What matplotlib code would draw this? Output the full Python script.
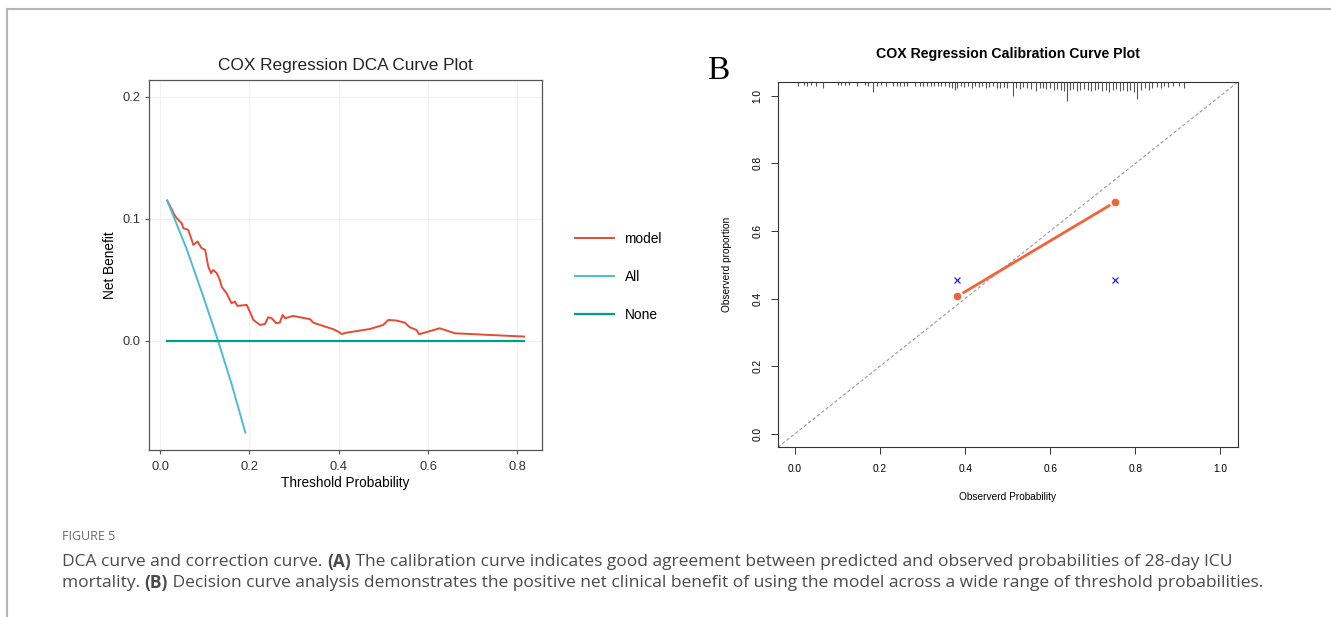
import numpy as np
import matplotlib
matplotlib.use('Agg')
import matplotlib.pyplot as plt
from matplotlib.lines import Line2D

# ------------------------------------------------------------------ data --- #

# panel A: decision curve
model_thr = [0.016, 0.026, 0.031, 0.037, 0.0485, 0.052, 0.063, 0.071, 0.0745, 0.084,
             0.093, 0.101, 0.108, 0.114, 0.119, 0.127, 0.134, 0.138, 0.149, 0.160,
             0.168, 0.173, 0.194, 0.201, 0.209, 0.224, 0.235, 0.242, 0.250, 0.260,
             0.268, 0.2745, 0.280, 0.298, 0.336, 0.343, 0.365, 0.388, 0.399, 0.4065,
             0.418, 0.470, 0.4996, 0.511, 0.529, 0.548, 0.559, 0.574, 0.580, 0.626,
             0.660, 0.738, 0.815]
model_nb = [0.115, 0.108, 0.104, 0.1006, 0.0965, 0.0924, 0.091, 0.0828, 0.0787, 0.0814,
            0.076, 0.0746, 0.0609, 0.0555, 0.0582, 0.0555, 0.050, 0.0445, 0.039, 0.0309,
            0.0322, 0.0287, 0.0295, 0.024, 0.0172, 0.0131, 0.0139, 0.0194, 0.0186, 0.0145,
            0.015, 0.0213, 0.0186, 0.0205, 0.0178, 0.015, 0.0123, 0.0096, 0.0076, 0.0057,
            0.0068, 0.0098, 0.0131, 0.0172, 0.0167, 0.015, 0.0112, 0.009, 0.0055, 0.0104,
            0.0063, 0.0049, 0.0036]
all_thr = [0.016, 0.060, 0.100, 0.130, 0.160, 0.191]
all_nb = [0.115, 0.075, 0.033, 0.0, -0.035, -0.075]
none_thr = [0.016, 0.815]
none_nb = [0.0, 0.0]

# panel B: calibration
cal_pred = [0.382, 0.753]
cal_obs = [0.407, 0.686]
cal_ideal = [0.454, 0.455]

# rug of predicted values along the top and spike length
rug_x = [0.008, 0.021, 0.029, 0.038, 0.050, 0.067, 0.101, 0.109, 0.118, 0.126,
         0.147, 0.164, 0.172, 0.183, 0.193, 0.202, 0.214, 0.231, 0.239, 0.247,
         0.256, 0.264, 0.281, 0.294, 0.302, 0.310, 0.319, 0.327, 0.336, 0.344,
         0.352, 0.361, 0.369, 0.375, 0.382, 0.390, 0.398, 0.407, 0.415, 0.424,
         0.432, 0.440, 0.449, 0.457, 0.466, 0.474, 0.482, 0.491, 0.499, 0.512,
         0.520, 0.528, 0.537, 0.545, 0.554, 0.566, 0.575, 0.583, 0.591, 0.600,
         0.608, 0.617, 0.625, 0.633, 0.639, 0.646, 0.654, 0.663, 0.671, 0.679,
         0.688, 0.696, 0.705, 0.713, 0.721, 0.730, 0.738, 0.747, 0.755, 0.763,
         0.772, 0.780, 0.788, 0.797, 0.803, 0.814, 0.822, 0.831, 0.839, 0.852,
         0.860, 0.868, 0.877, 0.889, 0.902, 0.914]
rug_h = [0.010, 0.008, 0.010, 0.008, 0.010, 0.016, 0.008, 0.008, 0.008, 0.008,
         0.010, 0.008, 0.010, 0.030, 0.010, 0.008, 0.010, 0.010, 0.012, 0.010,
         0.012, 0.010, 0.010, 0.012, 0.010, 0.012, 0.010, 0.010, 0.012, 0.010,
         0.012, 0.014, 0.016, 0.022, 0.016, 0.012, 0.014, 0.012, 0.016, 0.012,
         0.014, 0.012, 0.016, 0.014, 0.012, 0.016, 0.018, 0.014, 0.016, 0.040,
         0.016, 0.020, 0.014, 0.018, 0.020, 0.026, 0.018, 0.016, 0.020, 0.018,
         0.022, 0.020, 0.024, 0.026, 0.056, 0.024, 0.020, 0.026, 0.022, 0.020,
         0.024, 0.026, 0.022, 0.020, 0.026, 0.022, 0.028, 0.024, 0.020, 0.026,
         0.022, 0.026, 0.024, 0.028, 0.050, 0.022, 0.018, 0.024, 0.016, 0.014,
         0.018, 0.012, 0.014, 0.010, 0.012, 0.016]

caption_title = 'FIGURE 5'
caption_lines = [
    [('DCA curve and correction curve. ', 'normal'), ('(A)', 'bold'),
     (' The calibration curve indicates good agreement between predicted and observed probabilities of 28-day ICU', 'normal')],
    [('mortality. ', 'normal'), ('(B)', 'bold'),
     (' Decision curve analysis demonstrates the positive net clinical benefit of using the model across a wide range of threshold probabilities.', 'normal')],
]

W, H = 1331, 617
plt.rcParams['font.family'] = ['Liberation Sans', 'DejaVu Sans']

fig = plt.figure(figsize=(W / 100, H / 100), dpi=100)


def px_box(left, top, right, bottom):
    return [left / W, 1 - bottom / H, (right - left) / W, (bottom - top) / H]


# ----------------------------------------------------------- panel A --- #
ax1 = fig.add_axes(px_box(149.3, 80, 542, 450))
ax1.plot(model_thr, model_nb, color='#E64B35', lw=1.4, label='model')
ax1.plot(all_thr, all_nb, color='#4DBBD5', lw=1.4, label='All')
ax1.plot(none_thr, none_nb, color='#00A087', lw=1.6, label='None')
ax1.set_xlim(-0.024, 0.855)
ax1.set_ylim(-0.0893, 0.2137)
ax1.set_xticks([0.0, 0.2, 0.4, 0.6, 0.8])
ax1.set_yticks([0.0, 0.1, 0.2])
ax1.grid(True, color='#f1f1f1', lw=0.9)
ax1.set_axisbelow(True)
for s in ax1.spines.values():
    s.set_color('#555555')
    s.set_linewidth(0.9)
ax1.tick_params(length=3, width=0.8, color='#555555', labelsize=9.3,
                labelcolor='#333333', pad=3)
ax1.tick_params(axis='x', pad=5)
ax1.set_xlabel('Threshold Probability', fontsize=9.8, va='center')
ax1.set_ylabel('Net Benefit', fontsize=9.8, va='center')
ax1.xaxis.set_label_coords(0.5, -0.089)
ax1.yaxis.set_label_coords(-0.100, 0.5)
ax1.set_title('COX Regression DCA Curve Plot', fontsize=12.4, y=1.04, pad=0,
              va='center', color='#222222')
fig.legend(*ax1.get_legend_handles_labels(), loc='center left',
           bbox_to_anchor=(575 / W, 1 - 277 / H), frameon=False,
           fontsize=9.9, handlelength=2.8, handletextpad=0.8,
           labelspacing=1.75, borderpad=0, borderaxespad=0)

# ----------------------------------------------------------- panel B --- #
ax2 = fig.add_axes(px_box(777.9, 82.3, 1237.5, 447.3))
ax2.set_xlim(-0.04, 1.04)
ax2.set_ylim(-0.04, 1.04)
ax2.axline((0, 0), (1, 1), color='#9a9a9a', lw=0.8, dashes=(3, 2))
ax2.vlines(rug_x, 1.04 - np.array(rug_h), 1.04, color='#555555', lw=0.8)
ax2.annotate('', xy=(cal_pred[1], cal_obs[1]), xytext=(cal_pred[0], cal_obs[0]),
             arrowprops=dict(arrowstyle='-', color='#F4623A', lw=2.0,
                             shrinkA=5, shrinkB=5))
ax2.plot(cal_pred, cal_obs, 'o', color='#F4623A', ms=4.5)
ax2.plot(cal_pred, cal_ideal, 'x', color='#1f1fff', ms=5, mew=0.9)
ax2.set_xticks(np.arange(0, 1.01, 0.2))
ax2.set_yticks(np.arange(0, 1.01, 0.2))
ax2.set_xticklabels(['0.0', '0.2', '0.4', '0.6', '0.8', '1.0'])
ax2.set_yticklabels(['0.0', '0.2', '0.4', '0.6', '0.8', '1.0'])
for s in ax2.spines.values():
    s.set_color('#333333')
    s.set_linewidth(0.8)
ax2.tick_params(length=5, width=0.7, color='#333333', labelsize=7.3, pad=7)
ax2.tick_params(axis='y', labelrotation=90, pad=6)
for lab in ax2.get_yticklabels():
    lab.set_va('center')
ax2.set_xlabel('Observerd Probability', fontsize=7.3, va='center')
ax2.set_ylabel('Observerd proportion', fontsize=7.3, va='center')
ax2.xaxis.set_label_coords(0.5, -0.136)
ax2.yaxis.set_label_coords(-0.111, 0.5)
ax2.set_title('COX Regression Calibration Curve Plot', fontsize=10.2,
              fontweight='bold', y=1.078, pad=0, va='center')

fig.text(718 / W, 1 - 71 / H, 'B', fontsize=24, family='Liberation Serif',
         ha='center', va='center')

# ------------------------------------------------------- frame + caption --- #
fig.add_artist(Line2D([7 / W, 1], [1 - 9 / H] * 2, transform=fig.transFigure,
                      color='#b5b5b5', lw=1.5))
fig.add_artist(Line2D([7 / W] * 2, [0, 1 - 9 / H], transform=fig.transFigure,
                      color='#b5b5b5', lw=1.5))

cap_x = 62
cap_font = ['Open Sans', 'DejaVu Sans']
fig.text(cap_x / W, 1 - 537 / H, caption_title, fontsize=9, family=cap_font,
         color='#6a6a6a', va='center')

renderer = fig.canvas.get_renderer()
for i, runs in enumerate(caption_lines):
    x = cap_x / W
    y = 1 - (562 + 21 * i) / H
    for txt, weight in runs:
        t = fig.text(x, y, txt, fontsize=12.5, family=cap_font, fontweight=weight,
                     color='#4a4a4a', va='center')
        x += t.get_window_extent(renderer=renderer).width / W

fig.savefig('out.png', dpi=100)
